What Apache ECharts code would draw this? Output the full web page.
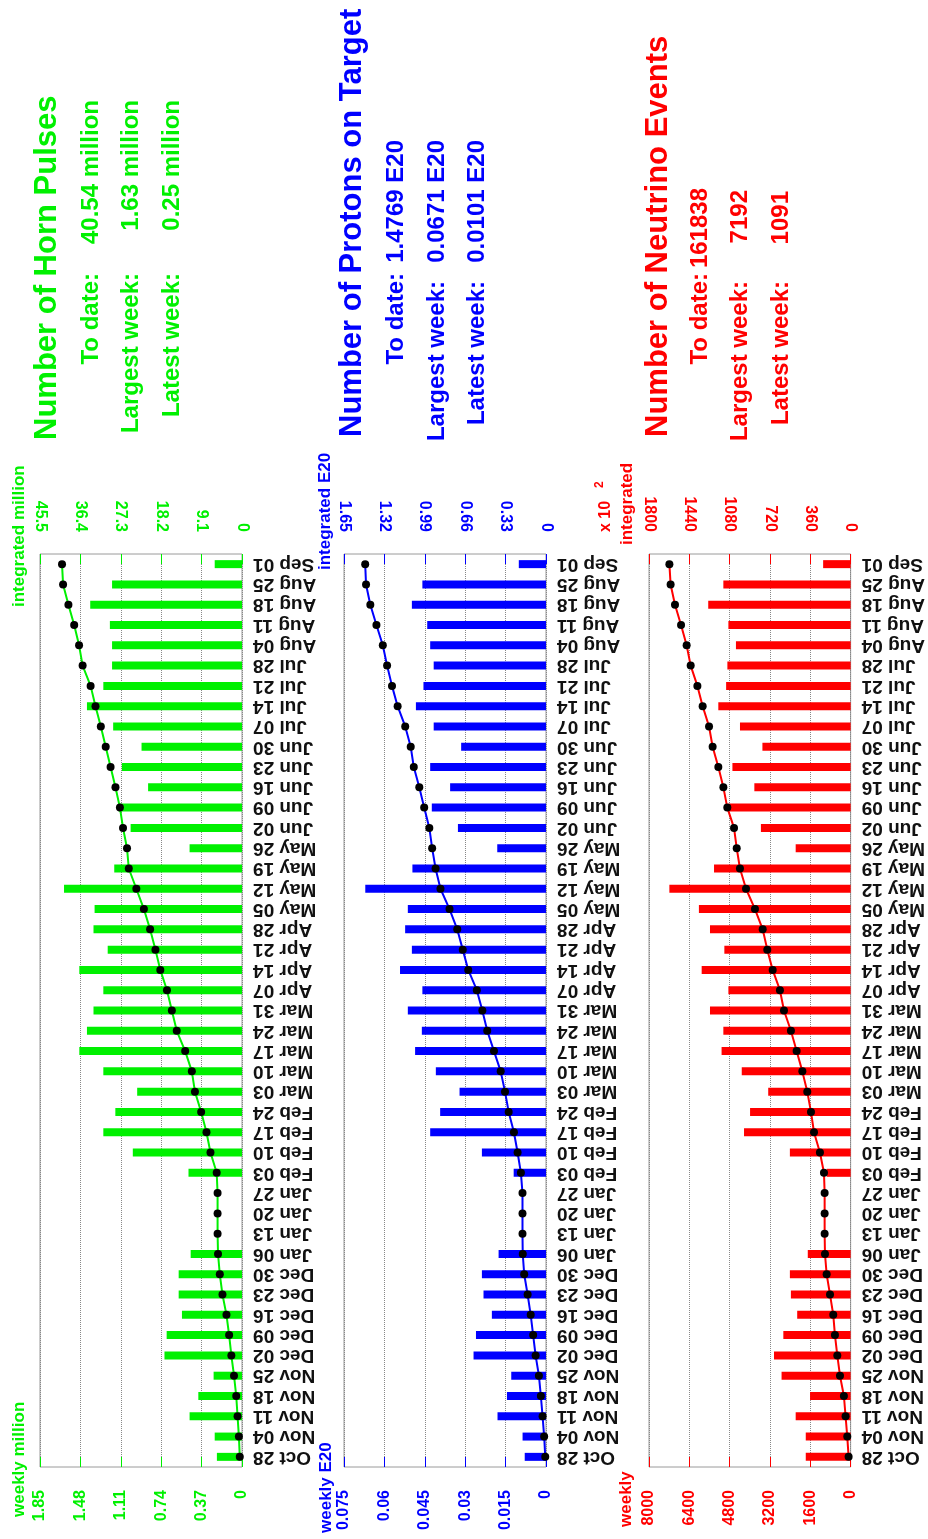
<!DOCTYPE html>
<html><head><meta charset="utf-8">
<script src="https://cdn.jsdelivr.net/npm/echarts@6/dist/echarts.min.js"></script>
<style>html,body{margin:0;padding:0;background:#fff}#c{width:928px;height:1539px}</style>
</head><body><div id="c"></div>
<script>
// ---------------- DATA ----------------
const weeks = ['Oct 28','Nov 04','Nov 11','Nov 18','Nov 25','Dec 02','Dec 09','Dec 16','Dec 23','Dec 30',
  'Jan 06','Jan 13','Jan 20','Jan 27','Feb 03','Feb 10','Feb 17','Feb 24','Mar 03','Mar 10',
  'Mar 17','Mar 24','Mar 31','Apr 07','Apr 14','Apr 21','Apr 28','May 05','May 12','May 19',
  'May 26','Jun 02','Jun 09','Jun 16','Jun 23','Jun 30','Jul 07','Jul 14','Jul 21','Jul 28',
  'Aug 04','Aug 11','Aug 18','Aug 25','Sep 01'];

// Horn pulses (million)
const hornWeekly = [0.23,0.25,0.48,0.40,0.26,0.71,0.69,0.55,0.58,0.58,
  0.47,0,0,0,0.49,1.00,1.27,1.16,0.96,1.27,
  1.49,1.42,1.36,1.27,1.49,1.23,1.36,1.35,1.63,1.17,
  0.48,1.02,1.13,0.86,1.10,0.92,1.18,1.42,1.27,1.19,
  1.19,1.21,1.39,1.19,0.25];
const hornIntegrated = [0.5,0.7,1.0,1.3,1.8,2.4,2.9,3.5,4.4,5.0,
  5.4,5.5,5.5,5.5,5.7,7.1,8.0,9.2,10.6,11.3,
  12.8,14.7,15.8,16.9,18.4,19.5,20.7,22.1,23.8,25.5,
  25.9,26.8,27.5,28.5,29.6,30.7,31.8,33.0,34.1,35.9,
  36.7,37.8,39.1,40.3,40.54];
const hornWeeklyTicks = ['0','0.37','0.74','1.11','1.48','1.85'];
const hornIntegratedTicks = ['0','9.1','18.2','27.3','36.4','45.5'];

// Protons on target (E20)
const potWeekly = [0.0079,0.0087,0.0180,0.0145,0.0129,0.0269,0.0260,0.0201,0.0232,0.0238,
  0.0176,0,0,0,0.0120,0.0238,0.0430,0.0393,0.0321,0.0409,
  0.0486,0.0461,0.0513,0.0459,0.0542,0.0498,0.0523,0.0513,0.0671,0.0496,
  0.0181,0.0327,0.0424,0.0356,0.0430,0.0315,0.0417,0.0483,0.0455,0.0417,
  0.0430,0.0441,0.0498,0.0459,0.0101];
const potIntegrated = [0.006,0.015,0.028,0.042,0.058,0.085,0.105,0.125,0.150,0.178,
  0.190,0.192,0.192,0.192,0.205,0.232,0.262,0.305,0.335,0.370,
  0.425,0.480,0.520,0.565,0.635,0.680,0.725,0.788,0.862,0.902,
  0.930,0.953,0.995,1.035,1.080,1.105,1.150,1.212,1.258,1.298,
  1.333,1.385,1.435,1.470,1.4769];
const potWeeklyTicks = ['0','0.015','0.03','0.045','0.06','0.075'];
const potIntegratedTicks = ['0','0.33','0.66','0.99','1.32','1.65'];

// Neutrino events (weekly; integrated in units of 10^2)
const nuWeekly = [1780,1780,2180,1610,2740,3040,2670,2120,2370,2410,
  1700,0,0,0,950,2410,4230,3990,3270,4320,
  5120,5050,5580,4850,5910,5010,5580,6020,7192,5420,
  2180,3560,4850,3820,4690,3500,4390,5250,4940,4890,
  4550,4850,5650,5050,1091];
const nuIntegrated = [18,30,45,60,95,119,140,155,184,214,
  229,232,232,232,238,274,327,354,387,431,
  482,533,595,631,696,744,785,854,934,988,
  1017,1041,1101,1136,1181,1232,1264,1321,1368,1428,
  1464,1514,1568,1607,1618];
const nuWeeklyTicks = ['0','1600','3200','4800','6400','8000'];
const nuIntegratedTicks = ['0','360','720','1080','1440','1800'];

// ---------------- CHART ----------------
const FONT = '"Liberation Sans", Arial, Helvetica, sans-serif';
const panels = [
  {left:40, width:202, color:'#00f000', wMax:1.85, wInt:0.37, iMax:45.5, iInt:9.1,
   weekly:hornWeekly, integ:hornIntegrated, wTicks:hornWeeklyTicks, iTicks:hornIntegratedTicks},
  {left:344, width:202, color:'#0000ff', wMax:0.075, wInt:0.015, iMax:1.65, iInt:0.33,
   weekly:potWeekly, integ:potIntegrated, wTicks:potWeeklyTicks, iTicks:potIntegratedTicks},
  {left:649, width:203, color:'#ff0000', wMax:8000, wInt:1600, iMax:1800, iInt:360,
   weekly:nuWeekly, integ:nuIntegrated, wTicks:nuWeeklyTicks, iTicks:nuIntegratedTicks}
];

const grids = [], xAxes = [], yAxes = [], series = [];
panels.forEach((p, i) => {
  grids.push({left:p.left, top:554, width:p.width, height:913, show:true,
    borderColor:'#9a9a9a', borderWidth:1, backgroundColor:'transparent'});
  const mkX = (pos, max, interval, ticks, split) => ({
    type:'value', gridIndex:i, position:pos, min:0, max:max, interval:interval, inverse:true,
    axisLine:{show:false},
    axisTick:{show:true, inside:true, length:10, lineStyle:{color:p.color, width:1}},
    splitLine:{show:split, lineStyle:{color:'#888', type:'dotted', width:1}},
    axisLabel:{show:true, rotate:90, color:p.color, fontSize:16, fontWeight:'bold', fontFamily:FONT,
      margin: pos === 'top' ? 22 : 23, showMinLabel:true, showMaxLabel:true, hideOverlap:false,
      formatter: v => ticks[Math.round(v / interval)]}
  });
  xAxes.push(mkX('bottom', p.wMax, p.wInt, p.wTicks, true));
  xAxes.push(mkX('top', p.iMax, p.iInt, p.iTicks, false));
  yAxes.push({type:'category', gridIndex:i, data:weeks, position:'right', boundaryGap:true,
    axisLine:{show:false}, axisTick:{show:false}, splitLine:{show:false},
    axisLabel:{interval:0, rotate:180, margin:11, color:'#111', fontSize:19, fontWeight:'bold', fontFamily:FONT}});
  series.push({type:'bar', xAxisIndex:2*i, yAxisIndex:i, data:p.weekly, barWidth:8,
    itemStyle:{color:p.color}, silent:true});
  series.push({type:'line', xAxisIndex:2*i+1, yAxisIndex:i, data:p.integ,
    symbol:'circle', symbolSize:8, itemStyle:{color:'#000'},
    lineStyle:{color:p.color, width:2}, silent:true, z:5});
});

function vtext(x, y, text, color, size, align, weight) {
  return {type:'text', x:x, y:y, rotation:Math.PI/2, silent:true,
    style:{text:text, fill:color, fontSize:size, fontWeight:weight || 'normal', fontFamily:FONT,
      textAlign:align, textVerticalAlign:'middle'}};
}
const G = '#00f000', B = '#0000ff', R = '#ff0000';
const graphic = [
  vtext(47, 440, 'Number of Horn Pulses', G, 31, 'left', 'bold'),
  vtext(91, 273, 'To date:', G, 24, 'right', 'bold'),
  vtext(91, 100, '40.54 million', G, 24, 'right', 'bold'),
  vtext(131, 273, 'Largest week:', G, 24, 'right', 'bold'),
  vtext(131, 100, '1.63 million', G, 24, 'right', 'bold'),
  vtext(172, 273, 'Latest week:', G, 24, 'right', 'bold'),
  vtext(172, 100, '0.25 million', G, 24, 'right', 'bold'),
  vtext(19, 607, 'integrated million', G, 17, 'left', 'bold'),
  vtext(19, 1517, 'weekly million', G, 17, 'left', 'bold'),

  vtext(352, 437, 'Number of Protons on Target', B, 31, 'left', 'bold'),
  vtext(396, 273, 'To date:', B, 24, 'right', 'bold'),
  vtext(396, 140, '1.4769 E20', B, 24, 'right', 'bold'),
  vtext(437, 281, 'Largest week:', B, 24, 'right', 'bold'),
  vtext(437, 140, '0.0671 E20', B, 24, 'right', 'bold'),
  vtext(477, 281, 'Latest week:', B, 24, 'right', 'bold'),
  vtext(477, 140, '0.0101 E20', B, 24, 'right', 'bold'),
  vtext(325, 570, 'integrated E20', B, 17, 'left', 'bold'),
  vtext(326, 1533, 'weekly E20', B, 17, 'left', 'bold'),

  vtext(658, 437, 'Number of Neutrino Events', R, 31, 'left', 'bold'),
  vtext(700, 273, 'To date:', R, 24, 'right', 'bold'),
  vtext(700, 188, '161838', R, 24, 'right', 'bold'),
  vtext(740, 281, 'Largest week:', R, 24, 'right', 'bold'),
  vtext(740, 190, '7192', R, 24, 'right', 'bold'),
  vtext(781, 281, 'Latest week:', R, 24, 'right', 'bold'),
  vtext(781, 191, '1091', R, 24, 'right', 'bold'),
  vtext(627, 545, 'integrated', R, 17, 'left', 'bold'),
  vtext(626, 1527, 'weekly', R, 17, 'left', 'bold'),
  vtext(606, 532, 'x 10', R, 16, 'left', 'bold'),
  vtext(600, 488, '2', R, 12, 'left', 'bold')
];

const chart = echarts.init(document.getElementById('c'), null, {renderer:'canvas'});
chart.setOption({animation:false, backgroundColor:'#fff', grid:grids, xAxis:xAxes, yAxis:yAxes,
  series:series, graphic:graphic});
</script></body></html>
